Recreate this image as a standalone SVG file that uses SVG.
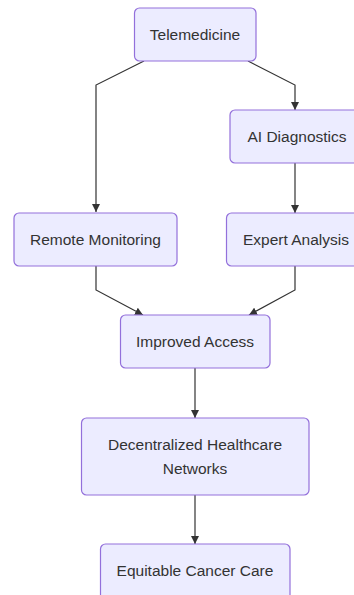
<svg xmlns="http://www.w3.org/2000/svg" width="354" height="595" viewBox="0 0 354 595">
<defs>
<style>
.node rect{fill:#ECECFF;stroke:#9370DB;stroke-width:1.2}
.node text{font-family:"Liberation Sans",Arial,sans-serif;font-size:15.5px;fill:#333;text-anchor:middle;dominant-baseline:central}
.edge{fill:none;stroke:#333;stroke-width:1.2}
</style>
<marker id="arr" viewBox="0 0 10 10" refX="10" refY="5" markerWidth="8" markerHeight="8" markerUnits="userSpaceOnUse" orient="auto">
<path d="M0,0 L10,5 L0,10 z" fill="#333"/>
</marker>
</defs>
<rect width="354" height="595" fill="#fff"/>
<g id="connectors">
<path class="edge" d="M144,61 L96,85 L96,212" marker-end="url(#arr)"/>
<path class="edge" d="M248,61 L295,85 L295,110" marker-end="url(#arr)"/>
<path class="edge" d="M295,163 L295,213" marker-end="url(#arr)"/>
<path class="edge" d="M96,266 L96,290 L143,315" marker-end="url(#arr)"/>
<path class="edge" d="M295,266 L295,290 L249,315" marker-end="url(#arr)"/>
<path class="edge" d="M195,368 L195,418" marker-end="url(#arr)"/>
<path class="edge" d="M195,495 L195,544" marker-end="url(#arr)"/>
</g>
<g id="telemedicine" class="node"><rect x="134.5" y="8" width="121.5" height="53" rx="5"/><text x="195" y="34.5">Telemedicine</text></g>
<g id="ai-diagnostics" class="node"><rect x="230" y="110" width="130" height="53" rx="5"/><text x="297" y="136.5">AI Diagnostics</text></g>
<g id="remote-monitoring" class="node"><rect x="14" y="213" width="163" height="53" rx="5"/><text x="95.5" y="239.5">Remote Monitoring</text></g>
<g id="expert-analysis" class="node"><rect x="226.5" y="213" width="134" height="53" rx="5"/><text x="296" y="239.5">Expert Analysis</text></g>
<g id="improved-access" class="node"><rect x="120.5" y="315" width="149.5" height="53" rx="5"/><text x="195" y="341.5">Improved Access</text></g>
<g id="decentralized" class="node"><rect x="81.5" y="418" width="227.5" height="77" rx="5"/><text x="195" y="444">Decentralized Healthcare</text><text x="195" y="468">Networks</text></g>
<g id="equitable" class="node"><rect x="100.5" y="544" width="189.5" height="60" rx="5"/><text x="195" y="570">Equitable Cancer Care</text></g>
</svg>
